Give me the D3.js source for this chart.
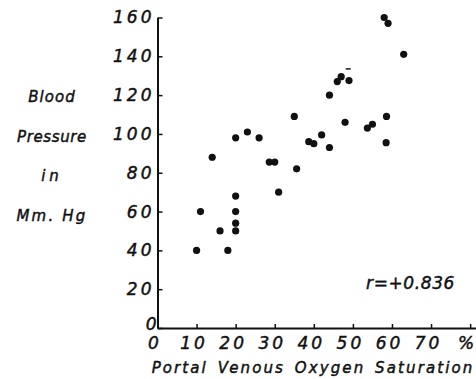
<!DOCTYPE html>
<html>
<head>
<meta charset="utf-8">
<script src="https://cdn.jsdelivr.net/npm/d3@7"></script>
<style>
  body { margin: 0; background: #fff; }
  svg { display: block; }
  text { font-family: "DejaVu Sans", sans-serif; font-style: oblique; fill: #111; stroke: #111; stroke-width: 0.45; }
</style>
</head>
<body>
<div id="chart"></div>
<script>
// saturation (%) vs blood pressure (mm Hg)
var saturation = [58, 59, 63, 47, 46, 49, 44, 35, 58.6, 48, 55, 53.7, 23, 20, 26, 42, 38.7, 40, 44, 58.5, 14, 28.6, 30, 35.6, 31, 20, 11, 20, 16, 20, 20, 10, 18];
var pressure   = [160, 157, 141, 129.5, 127, 127.5, 120, 109, 109, 106, 105, 103, 101, 98, 98, 99.5, 96, 95, 93, 95.5, 88, 85.5, 85.5, 82, 70, 68, 60, 60, 50, 54, 50, 40, 40];
// small stray dash printed above one of the points
var dashSat = [48.8];
var dashPressure = [133.5];
var xTicks = [0, 10, 20, 30, 40, 50, 60, 70, 80];
var yTicks = [0, 20, 40, 60, 80, 100, 120, 140, 160];
var yTitle = ["Blood", "Pressure", "in", "Mm. Hg"];

var svgWidth = 476, svgHeight = 379;
var svg = d3.select("#chart").append("svg")
  .attr("width", svgWidth).attr("height", svgHeight);

var x = d3.scaleLinear().domain([0, 81.5]).range([157.5, 476]);
var y = d3.scaleLinear().domain([0, 160]).range([328, 17.5]);

// y axis, ticks pointing inward
var gy = svg.append("g")
  .attr("transform", "translate(" + x(0) + ",0)")
  .call(d3.axisLeft(y).tickValues(yTicks).tickSize(-5).tickSizeOuter(0).tickPadding(4)
    .tickFormat(function(d) { return d === 0 ? "" : d; }));

// x axis
var gx = svg.append("g")
  .attr("transform", "translate(0," + y(0) + ")")
  .call(d3.axisBottom(x).tickValues(xTicks).tickSize(-4).tickSizeOuter(0).tickPadding(7)
    .tickFormat(function(d) { return d === 80 ? "%" : d; }));

[gx, gy].forEach(function(g) {
  g.select(".domain").attr("stroke", "#111").attr("stroke-width", 2);
  g.selectAll(".tick line").attr("stroke", "#111").attr("stroke-width", 1.5);
  g.selectAll("text")
    .attr("font-family", "DejaVu Sans, sans-serif")
    .attr("font-style", "oblique")
    .attr("font-size", 17)
    .attr("letter-spacing", 3)
    .attr("fill", "#111");
});
gx.selectAll(".tick text").attr("dy", "0.8em").attr("dx", -3);
gy.selectAll(".tick text").attr("dx", 1);

// origin "0" on y axis
svg.append("text")
  .attr("x", x(0) - 1).attr("y", y(0) + 2)
  .attr("text-anchor", "end")
  .attr("font-size", 17)
  .text("0");

// y axis title (stacked words)
svg.selectAll(".ytitle")
  .data(yTitle)
  .enter().append("text")
  .attr("class", "ytitle")
  .attr("x", 52)
  .attr("y", function(d, i) { return 102 + i * 39.5; })
  .attr("text-anchor", "middle")
  .attr("font-size", 15)
  .attr("letter-spacing", function(d) { return d === "in" ? 4 : d === "Mm. Hg" ? 2.2 : d === "Blood" ? 1 : 0.6; })
  .text(function(d) { return d; });

// x axis title
svg.append("text")
  .attr("x", 313).attr("y", 373)
  .attr("text-anchor", "middle")
  .attr("font-size", 15)
  .attr("letter-spacing", 2.1)
  .attr("word-spacing", 3)
  .text("Portal Venous Oxygen Saturation");

// correlation
svg.append("text")
  .attr("x", 455).attr("y", 289)
  .attr("text-anchor", "end")
  .attr("font-size", 17)
  .attr("letter-spacing", 0.6)
  .text("r=+0.836");

// points
svg.selectAll(".dot")
  .data(saturation)
  .enter().append("circle")
  .attr("class", "dot")
  .attr("cx", function(d) { return x(d); })
  .attr("cy", function(d, i) { return y(pressure[i]); })
  .attr("r", 3.6)
  .attr("fill", "#111");

svg.selectAll(".dash")
  .data(dashSat)
  .enter().append("line")
  .attr("class", "dash")
  .attr("x1", function(d) { return x(d) - 2.5; })
  .attr("x2", function(d) { return x(d) + 2.5; })
  .attr("y1", function(d, i) { return y(dashPressure[i]); })
  .attr("y2", function(d, i) { return y(dashPressure[i]); })
  .attr("stroke", "#111")
  .attr("stroke-width", 1.5);
</script>
</body>
</html>
